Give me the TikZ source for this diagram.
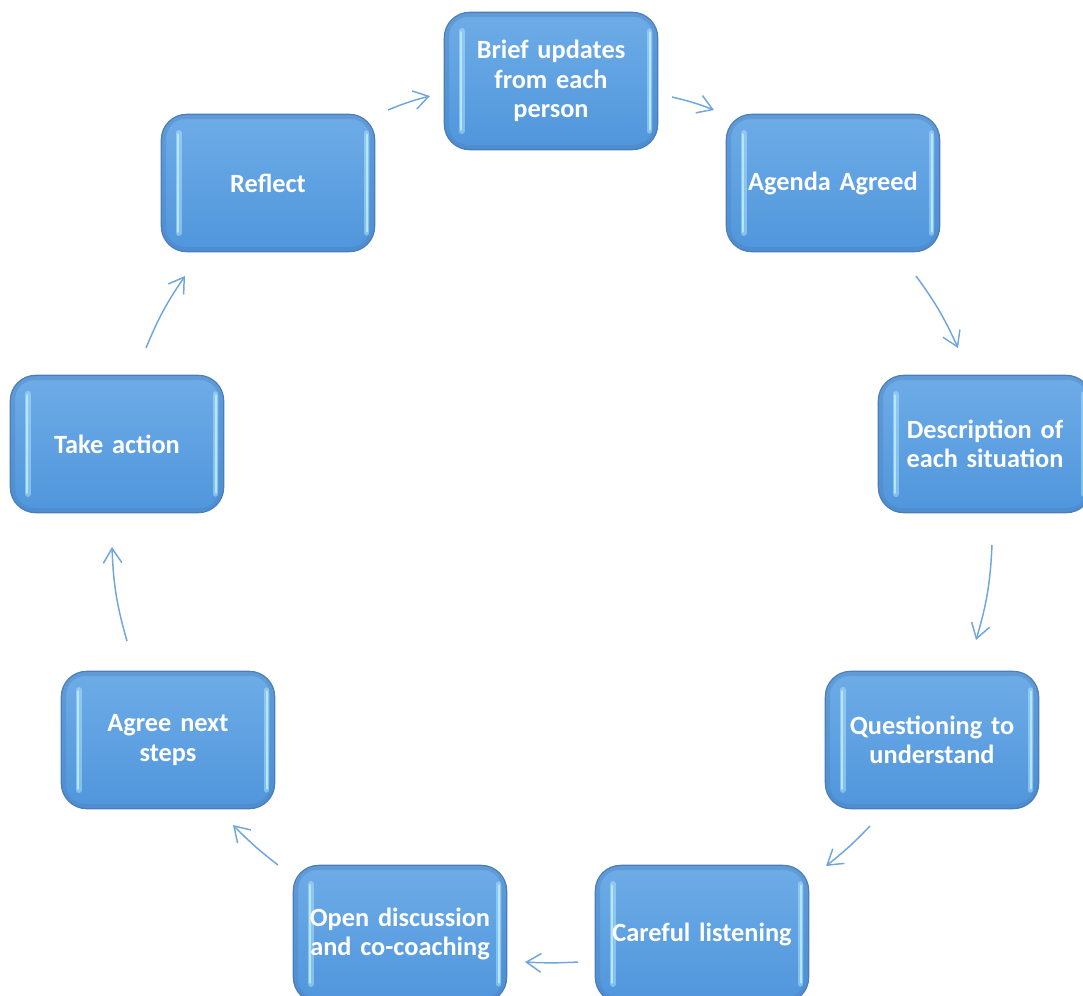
\documentclass[tikz,border=0pt]{standalone}
\usepackage{fontspec}
\setmainfont{Carlito}
\usetikzlibrary{arrows.meta,positioning}
\definecolor{boxtop}{HTML}{6EACE7}
\definecolor{boxbottom}{HTML}{5096DC}
\definecolor{boxedge}{HTML}{4A7EBA}
\definecolor{boxshine}{HTML}{B4E6FC}
\definecolor{flowblue}{HTML}{6FA6DE}
\tikzset{
stage/.style = {draw=boxedge, line width=0.9pt, rounded corners=19pt, top color=boxtop, bottom color=boxbottom,
  minimum width=160pt, minimum height=103pt, text width=150pt, align=center, text=white,
  font=\fontsize{19.75}{22}\selectfont\bfseries,
  path picture={
    \draw[boxedge, opacity=0.35, line width=5pt, rounded corners=17pt]
      ([xshift=1pt,yshift=-1pt]path picture bounding box.north west) rectangle ([xshift=-1pt,yshift=1pt]path picture bounding box.south east);
    \draw[boxshine, opacity=0.5, line width=4.5pt, line cap=round]
      ([xshift=13pt,yshift=-14pt]path picture bounding box.north west) -- ([xshift=13pt,yshift=14pt]path picture bounding box.south west);
    \draw[boxshine, line width=2pt, line cap=round]
      ([xshift=12.5pt,yshift=-15pt]path picture bounding box.north west) -- ([xshift=12.5pt,yshift=15pt]path picture bounding box.south west);
    \draw[boxshine, opacity=0.5, line width=4pt, line cap=round]
      ([xshift=-6pt,yshift=-14pt]path picture bounding box.north east) -- ([xshift=-6pt,yshift=14pt]path picture bounding box.south east);
    \draw[boxshine, line width=1.5pt, line cap=round]
      ([xshift=-5.5pt,yshift=-15pt]path picture bounding box.north east) -- ([xshift=-5.5pt,yshift=15pt]path picture bounding box.south east);
  }},
flow/.style = {draw=flowblue, line width=1.1pt, -{Straight Barb[length=11pt,width=14pt,line width=1.1pt]}}
}
\begin{document}
\begin{tikzpicture}[x=0.75pt,y=-0.75pt]
    \useasboundingbox (0,0) rectangle (1083,996);
    \clip (0,0) rectangle (1083,996);

    % stages of the cycle
    \node[stage] (brief) at (551,81) {Brief updates\\from each\\person};
    \node[stage] (agenda) at (833,183) {Agenda Agreed};
    \node[stage] (descr) at (985,444) {Description of\\each situation};
    \node[stage] (quest) at (932,740) {Questioning to\\understand};
    \node[stage] (listen) at (702,934) {Careful listening};
    \node[stage] (open) at (400,934) {Open discussion\\and co-coaching};
    \node[stage] (steps) at (168,740) {Agree next\\steps};
    \node[stage] (action) at (117,444) {Take action};
    \node[stage] (reflect) at (268,183) {Reflect};

    % arrow ends
    \coordinate (r1) at (388,110); \coordinate (b1) at (430,96);
    \coordinate (b2) at (672,97);  \coordinate (a1) at (714,110);
    \coordinate (a2) at (916,276); \coordinate (d1) at (958,348);
    \coordinate (d2) at (992,545); \coordinate (q1) at (976,640);
    \coordinate (q2) at (870,826); \coordinate (l1) at (826,866);
    \coordinate (l2) at (578,962); \coordinate (o1) at (525,962);
    \coordinate (o2) at (278,865); \coordinate (s1) at (233,825);
    \coordinate (s2) at (127,641); \coordinate (t1) at (112,547);
    \coordinate (t2) at (146,348); \coordinate (f1) at (185,276);

    \draw[flow] (r1) to[bend left=4] (b1);
    \draw[flow] (b2) to[bend left=4] (a1);
    \draw[flow] (a2) to[bend left=6] (d1);
    \draw[flow] (d2) to[bend left=7] (q1);
    \draw[flow] (q2) to[bend left=4] (l1);
    \draw[flow] (l2) to[bend left=3] (o1);
    \draw[flow] (o2) to[bend left=4] (s1);
    \draw[flow] (s2) to[bend left=7] (t1);
    \draw[flow] (t2) to[bend left=6] (f1);
\end{tikzpicture}
\end{document}
